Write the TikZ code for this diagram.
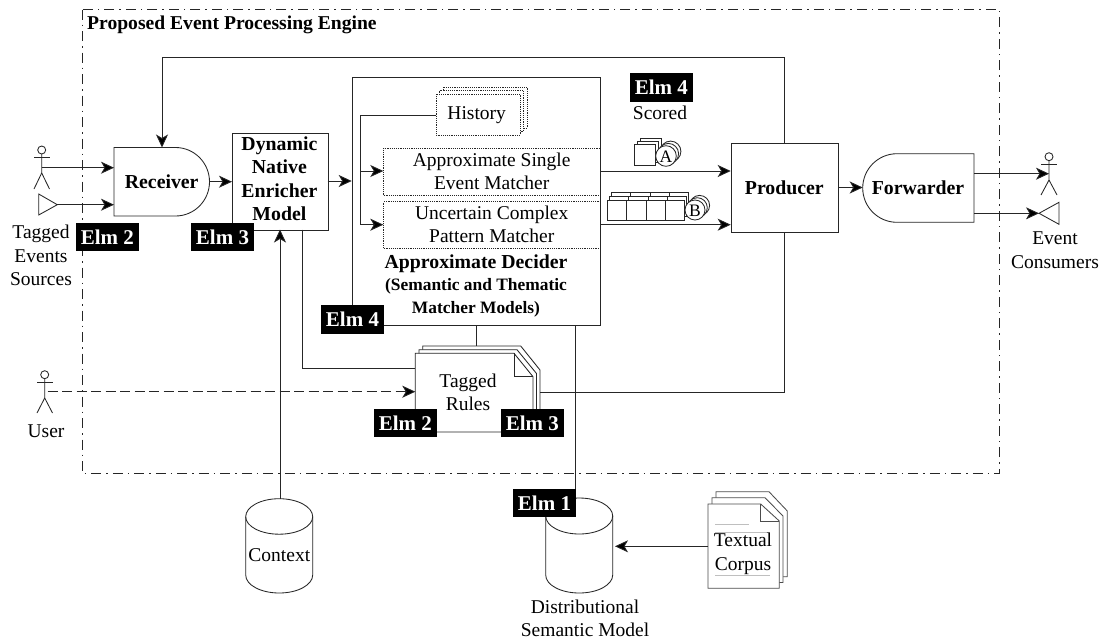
\documentclass[tikz,border=0pt]{standalone}
\usepackage{fontspec}
\setmainfont{Liberation Serif}
\usetikzlibrary{arrows.meta}
\tikzset{
  x=1pt,y=-1pt,
  ln/.style={draw=black!85,line width=0.85pt},
  tip/.style={-{Stealth[length=13pt,width=12pt,inset=3.5pt,fill=black]}},
  arr/.style={ln,tip},
  badge/.style={fill=black,text=white,font=\fontsize{21}{24}\selectfont\bfseries,inner sep=0pt,minimum width=63pt,minimum height=28.5pt},
  lab/.style={font=\fontsize{19.5}{23.5}\selectfont,align=center,inner sep=0pt},
  blab/.style={font=\fontsize{19.8}{23.5}\selectfont\bfseries,align=center,inner sep=0pt},
  small/.style={font=\fontsize{17.4}{22.5}\selectfont\bfseries,align=center,inner sep=0pt},
  dotbox/.style={draw=black!85,line width=0.85pt,densely dotted,fill=white},
  plainbox/.style={ln,fill=white},
  outerframe/.style={draw=black!85,line width=0.75pt,dash pattern=on 10pt off 5pt on 1.5pt off 5pt}
}
\begin{document}
\begin{tikzpicture}
\useasboundingbox (0,0) rectangle (1107,640);
\fill[white] (0,0) rectangle (1107,640);
% frame
\draw[outerframe] (82.3,9.5) rectangle (999.5,473.5);
\node[inner sep=0pt,anchor=west,font=\fontsize{19.6}{22}\selectfont\bfseries] (title) at (87,25) {Proposed Event Processing Engine};

% coordinates for free ends
\coordinate (fbT) at (784.3,57);
\coordinate (fbL) at (162,57);

% Decider box
\node[plainbox,anchor=north west,minimum width=248.5pt,minimum height=248.5pt,inner sep=0pt] (dec) at (351.7,76.7) {};
% Receiver
\draw[plainbox] (114,147.5) -- (175.5,147.5) arc[start angle=-90,end angle=90,x radius=34,y radius=34.25] -- (114,216) -- cycle;
\coordinate (recR) at (209.5,181.7);
\node[blab] (rec) at (161.7,181.7) {Receiver};
% DNEM
\node[plainbox,anchor=north west,minimum width=95.5pt,minimum height=96.5pt,inner sep=0pt] (dn) at (232,133) {};
\node[blab] (dnt) at (279.4,178.5) {Dynamic\\Native\\Enricher\\Model};
% Producer
\node[plainbox,anchor=north west,minimum width=107.6pt,minimum height=89.6pt,inner sep=0pt] (prod) at (730.7,142.7) {};
\node[blab] (prodt) at (784.3,187.5) {Producer};
% Forwarder
\draw[plainbox] (974,153.7) -- (897,153.7) arc[start angle=90,end angle=270,x radius=34.3,y radius=-34.3] -- (974,222.3) -- cycle;
\node[blab] (fw) at (918,187.5) {Forwarder};

% History
\foreach \d in {7,3.5,0}{
  \draw[dotbox] (436+\d,96-\d-2) rectangle (520+\d,135-\d);
}
\node[lab] (hist) at (476.7,115) {History};
% matchers
\node[dotbox,anchor=north west,minimum width=216.7pt,minimum height=47.6pt,inner sep=0pt] (m1) at (383.3,147.7) {};
\node[dotbox,anchor=north west,minimum width=216.7pt,minimum height=46.7pt,inner sep=0pt] (m2) at (383.3,201.3) {};
\node[lab] (m1t) at (491.7,171.5) {Approximate Single\\Event Matcher};
\node[lab] (m2t) at (491.7,224.5) {Uncertain Complex\\Pattern Matcher};
\node[blab] (d1) at (476,264) {Approximate Decider};
\node[small] (d2) at (476,298) {(Semantic and Thematic\\Matcher Models)};
% history bracket
\coordinate (brk) at (360,115);
\coordinate (b1) at (360,171);
\coordinate (b2) at (360,224.7);
\draw[ln] (436,115) -- (brk) -- (b2);
\draw[arr] (b1) -- (383.3,171);
\draw[arr] (b2) -- (383.3,224.7);

% connectors
\draw[arr] (recR) -- (232,181.7);
\draw[arr] (327.5,181) -- (351.7,181);
\draw[arr] (600,171) -- (730.7,171);
\draw[arr] (600,224.7) -- (730.7,224.7);
\draw[arr] (838.3,187.5) -- (862.7,187.5);
\draw[arr] (784.3,142.7) -- (fbT) -- (fbL) -- (162,147.5);

% Tagged Rules stack
\draw[plainbox] (422.7,346) -- (520.7,346) -- (540,370) -- (540,425) -- (422.7,425) -- cycle;
\draw[plainbox] (419,349.7) -- (517,349.7) -- (536.5,373.5) -- (536.5,428.5) -- (419,428.5) -- cycle;
\draw[plainbox] (415.3,353.3) -- (514,353.3) -- (533,376.7) -- (533,432) -- (415.3,432) -- cycle;
\draw[ln] (514,353.3) -- (514,376.7) -- (533,376.7);
\node[lab] (tr) at (468,392.5) {Tagged\\Rules};
\draw[ln] (476,325) -- (476,346);
\draw[ln] (302.7,229.5) -- (302.7,368.7) -- (415.3,368.7);
\draw[ln] (784.3,232.3) -- (784.3,392) -- (540,392);
\coordinate (ua) at (47.7,391.7);
\draw[ln,tip,dash pattern=on 10pt off 4.5pt] (ua) -- (415.3,391.7);

% Context
\draw[plainbox] (245.7,516.7) -- (245.7,575) arc[start angle=180,end angle=360,x radius=33.5,y radius=-18] -- (312.7,516.7) arc[start angle=0,end angle=-180,x radius=33.5,y radius=18] -- cycle;
\draw[ln] (245.7,516.7) arc[start angle=180,end angle=360,x radius=33.5,y radius=-17.5];
\node[lab] (ctx) at (279.3,555) {Context};
\draw[arr] (280,498.7) -- (280,229.5);

% DSM
\draw[plainbox] (545.7,516) -- (545.7,575) arc[start angle=180,end angle=360,x radius=33.5,y radius=-18] -- (612.7,516) arc[start angle=0,end angle=-180,x radius=33.5,y radius=18] -- cycle;
\draw[ln] (545.7,516) arc[start angle=180,end angle=360,x radius=33.5,y radius=-18];
\draw[ln] (575.7,325) -- (575.7,498.5);
\node[lab] (dsm) at (585,618.5) {Distributional\\Semantic Model};

% Corpus
\draw[plainbox,draw=black!70] (716,491.7) -- (769,491.7) -- (787.3,511) -- (787.3,576.7) -- (716,576.7) -- cycle;
\draw[plainbox,draw=black!70] (712,497.7) -- (765,497.7) -- (783,516) -- (783,582.5) -- (712,582.5) -- cycle;
\draw[plainbox,draw=black!70] (708,504) -- (760.7,504) -- (779.3,521) -- (779.3,588.3) -- (708,588.3) -- cycle;
\draw[draw=black!70,line width=0.6pt] (760.7,504) -- (760.7,521) -- (779.3,521);
\draw[black!25,line width=0.8pt] (715,524) -- (749,524);
\draw[black!25,line width=0.8pt] (715,532.7) -- (770,532.7);
\draw[black!25,line width=0.8pt] (715,575) -- (770,575);
\node[lab] (tc) at (743,553.7) {Textual\\Corpus};
\draw[arr] (708,546.3) -- (615,546.3);

% Scored icons
\node[lab] (sc) at (660,112.7) {Scored};
\foreach \d in {6,3,0}{
  \draw[ln,fill=white] (634+\d,144-\d) rectangle (655+\d,165.7-\d);
}
\foreach \d in {4.6,2.3,0}{
  \draw[ln,fill=white] (666+\d,156-\d) circle[radius=10.3];
}
\node[inner sep=0pt,font=\fontsize{17.5}{18}\selectfont] (la) at (666,157) {A};
\foreach \d in {8,4,0}{
  \foreach \i in {0,1,2,3}{
    \draw[ln,fill=white] (607.3+19.4*\i+\d*0.5,200-\d) rectangle (626.7+19.4*\i+\d*0.5,220-\d);
  }
}
\foreach \d in {4.6,2.3,0}{
  \draw[ln,fill=white] (695+\d,210-\d) circle[radius=10];
}
\node[inner sep=0pt,font=\fontsize{17.5}{18}\selectfont] (lb) at (695,211) {B};

% left actor and triangle
\draw[ln] (41.7,150) circle[radius=4];
\draw[ln] (34,157.7) -- (50,157.7);
\draw[ln] (41.7,154) -- (41.7,173) -- (34,189);
\draw[ln] (41.7,173) -- (49.5,189);
\draw[arr] (41.7,167.7) -- (114,167.7);
\draw[ln] (38.7,194) -- (38.7,215) -- (57.3,204.7) -- cycle;
\draw[arr] (57.3,204.7) -- (114,204.7);
\node[lab] (tes) at (41,255.5) {Tagged\\Events\\Sources};

% right
\draw[ln] (1049,156.7) circle[radius=4];
\draw[ln] (1041,164) -- (1057,164);
\draw[ln] (1049,160.7) -- (1049,180) -- (1041,195);
\draw[ln] (1049,180) -- (1057,195);
\draw[arr] (974,173.7) -- (1049,173.7);
\draw[ln] (1039,213.3) -- (1059,202.3) -- (1059,224.3) -- cycle;
\draw[arr] (974,213.3) -- (1039,213.3);
\node[lab] (ec) at (1055,250) {Event\\Consumers};

% user
\draw[ln] (44.7,374.7) circle[radius=4];
\draw[ln] (37,382.3) -- (53,382.3);
\draw[ln] (44.7,378.7) -- (44.7,398) -- (37,413);
\draw[ln] (44.7,398) -- (52.5,413);
\node[lab] (us) at (46,431.5) {User};

% badges
\node[badge] (e2a) at (107.4,237) {Elm 2};
\node[badge] (e3a) at (222.5,237) {Elm 3};
\node[badge] (e4a) at (352.5,319.5) {Elm 4};
\node[badge] (e4b) at (661.3,87.3) {Elm 4};
\node[badge] (e2b) at (405.3,423) {Elm 2};
\node[badge] (e3b) at (532.3,423) {Elm 3};
\node[badge] (e1) at (544.5,503) {Elm 1};
\end{tikzpicture}
\end{document}
